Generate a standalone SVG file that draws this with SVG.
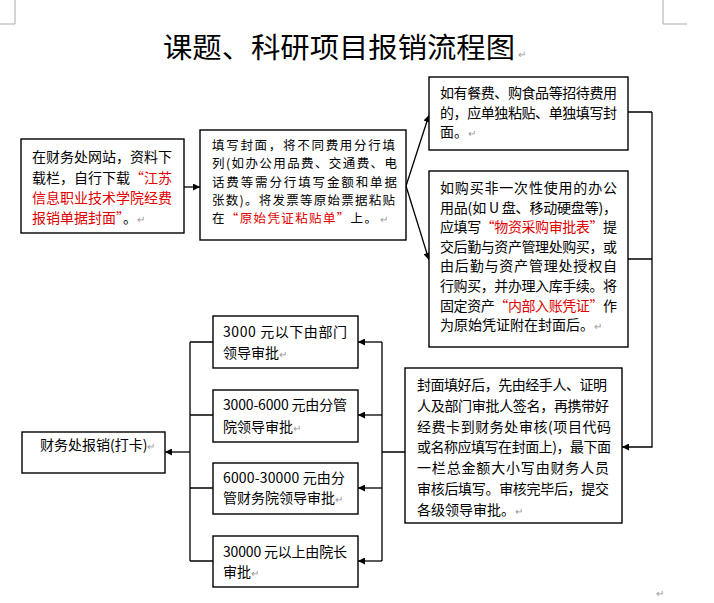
<svg xmlns="http://www.w3.org/2000/svg" width="714" height="603" viewBox="0 0 714 603">
<defs>
<marker id="ah" viewBox="0 0 10 10" refX="10" refY="5" markerWidth="9" markerHeight="7" markerUnits="userSpaceOnUse" orient="auto">
<path d="M0,0 L10,5 L0,10 z" fill="#000"/>
</marker>
</defs>
<style>
.box{fill:#fff;stroke:#000;stroke-width:1.4}
.t{font-family:"Noto Sans CJK SC","Liberation Sans",sans-serif;font-size:14px;fill:#000}
.s{font-size:12.5px}
.r{fill:#e00000}
.pm{fill:#999;font-size:10px}
.c{fill:none;stroke:#000;stroke-width:1.3}
.ca{fill:none;stroke:#000;stroke-width:1.3;marker-end:url(#ah)}
.mark{fill:none;stroke:#aaa;stroke-width:1}
</style>
<rect width="714" height="603" fill="#fff"/>
<g id="marks">
<path class="mark" d="M0,24 H15 V0 M663,0 V24 H687"/>
<text class="t pm" x="656" y="597">↵</text>
</g>
<g id="title">
<text class="t" x="163" y="58" textLength="352" lengthAdjust="spacingAndGlyphs" style="font-size:28px">课题、科研项目报销流程图</text>
<text class="t pm" x="518" y="58">↵</text>
</g>
<g id="connectors">
<path class="ca" d="M184,187 H200"/>
<path class="ca" d="M406,186 L429,115"/>
<path class="ca" d="M406,186 L429,260"/>
<path class="c" d="M628,112 H652 M628,259 H652"/>
<path class="ca" d="M652,112 V447 H622"/>
<path class="c" d="M405,452 H382 M382,342 V561"/>
<path class="ca" d="M382,342 H358"/>
<path class="ca" d="M382,415 H358"/>
<path class="ca" d="M382,488 H358"/>
<path class="ca" d="M382,561 H358"/>
<path class="c" d="M213,342 H190 M213,415 H190 M213,488 H190 M213,561 H190 M190,342 V561"/>
<path class="ca" d="M190,452 H165"/>
</g>
<g id="nodeA">
<rect class="box" x="21" y="139" width="163" height="94"/>
<text class="t" x="32" y="162">在财务处网站，资料下</text>
<text class="t" x="32" y="183">载栏，自行下载<tspan class="r">“江苏</tspan></text>
<text class="t r" x="32" y="203">信息职业技术学院经费</text>
<text class="t" x="32" y="223"><tspan class="r">报销单据封面”</tspan>。<tspan class="pm">↵</tspan></text>
</g>
<g id="nodeB">
<rect class="box" x="200" y="130" width="206" height="110"/>
<text class="t s" x="212" y="150" textLength="183">填写封面，将不同费用分行填</text>
<text class="t s" x="212" y="168.3" textLength="185">列(如办公用品费、交通费、电</text>
<text class="t s" x="212" y="186.6" textLength="185">话费等需分行填写金额和单据</text>
<text class="t s" x="212" y="204.9" textLength="183">张数)。将发票等原始票据粘贴</text>
<text class="t s" x="212" y="223.2" textLength="165">在<tspan class="r">“原始凭证粘贴单”</tspan>上。</text>
<text class="t pm" x="380" y="223.2">↵</text>
</g>
<g id="nodeC">
<rect class="box" x="429" y="77" width="199" height="73"/>
<text class="t" x="440" y="98" textLength="177">如有餐费、购食品等招待费用</text>
<text class="t" x="440" y="118" textLength="177">的，应单独粘贴、单独填写封</text>
<text class="t" x="440" y="137">面。<tspan class="pm">↵</tspan></text>
</g>
<g id="nodeD">
<rect class="box" x="429" y="171" width="199" height="176"/>
<text class="t" x="440" y="193" textLength="177">如购买非一次性使用的办公</text>
<text class="t" x="440" y="212.6" textLength="177">用品(如 U 盘、移动硬盘等)，</text>
<text class="t" x="440" y="232.2" textLength="177">应填写<tspan class="r">“物资采购审批表”</tspan>提</text>
<text class="t" x="440" y="251.8" textLength="177">交后勤与资产管理处购买，或</text>
<text class="t" x="440" y="271.4" textLength="177">由后勤与资产管理处授权自</text>
<text class="t" x="440" y="291" textLength="177">行购买，并办理入库手续。将</text>
<text class="t" x="440" y="310.6" textLength="177">固定资产<tspan class="r">“内部入账凭证”</tspan>作</text>
<text class="t" x="440" y="330.2">为原始凭证附在封面后。<tspan class="pm">↵</tspan></text>
</g>
<g id="nodeE">
<rect class="box" x="405" y="368" width="217" height="155"/>
<text class="t" x="417" y="390" textLength="190">封面填好后，先由经手人、证明</text>
<text class="t" x="417" y="410.8" textLength="192">人及部门审批人签名，再携带好</text>
<text class="t" x="417" y="431.6" textLength="194">经费卡到财务处审核(项目代码</text>
<text class="t" x="417" y="452.4" textLength="194">或名称应填写在封面上)，最下面</text>
<text class="t" x="417" y="473.2" textLength="192">一栏总金额大小写由财务人员</text>
<text class="t" x="417" y="494" textLength="192">审核后填写。审核完毕后，提交</text>
<text class="t" x="417" y="514.8">各级领导审批。<tspan class="pm">↵</tspan></text>
</g>
<g id="nodeF1">
<rect class="box" x="213" y="316" width="145" height="52"/>
<text class="t" x="223" y="337" textLength="124">3000  元以下由部门</text>
<text class="t" x="223" y="358">领导审批<tspan class="pm">↵</tspan></text>
</g>
<g id="nodeF2">
<rect class="box" x="213" y="390" width="145" height="52"/>
<text class="t" x="223" y="410" textLength="124">3000-6000  元由分管</text>
<text class="t" x="223" y="432">院领导审批<tspan class="pm">↵</tspan></text>
</g>
<g id="nodeF3">
<rect class="box" x="213" y="463" width="145" height="51"/>
<text class="t" x="223" y="483" textLength="122">6000-30000  元由分</text>
<text class="t" x="223" y="503">管财务院领导审批<tspan class="pm">↵</tspan></text>
</g>
<g id="nodeF4">
<rect class="box" x="213" y="536" width="145" height="51"/>
<text class="t" x="223" y="557" textLength="124">30000 元以上由院长</text>
<text class="t" x="223" y="577">审批<tspan class="pm">↵</tspan></text>
</g>
<g id="nodeG">
<rect class="box" x="22" y="432" width="143" height="41"/>
<text class="t" x="40" y="450">财务处报销(打卡)<tspan class="pm">↵</tspan></text>
</g>
</svg>
